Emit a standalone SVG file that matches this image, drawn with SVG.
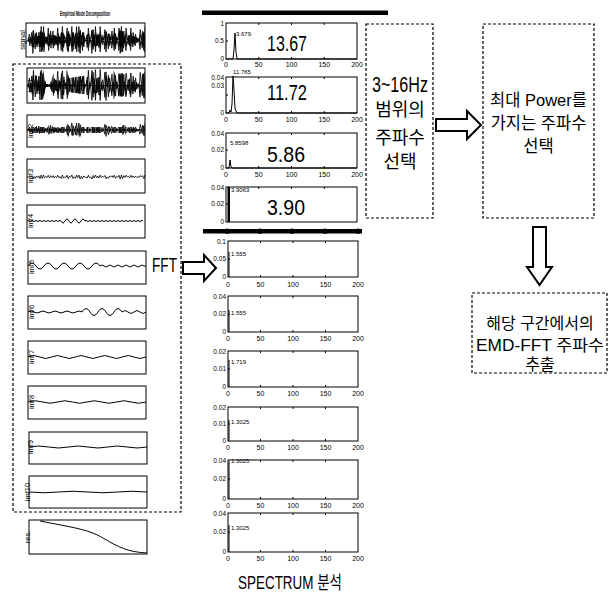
<svg xmlns="http://www.w3.org/2000/svg" width="612" height="593" viewBox="0 0 612 593">
<style>
.ax{fill:none;stroke:#000;stroke-width:1}
.w{fill:none;stroke:#000;stroke-width:1}
.n{fill:none;stroke:#000;stroke-width:0.8;vector-effect:non-scaling-stroke}
.dash{fill:none;stroke:#000;stroke-width:1.2;stroke-dasharray:3 2}
.arr{fill:#fff;stroke:#000;stroke-width:2;stroke-linejoin:miter}
text{font-family:"Liberation Sans","Noto Sans CJK KR",sans-serif;fill:#000}
.tk{font-size:7px;text-anchor:middle}
.yl{font-size:6.5px;text-anchor:end}
.ann{font-size:6px}
.lab{font-size:7.5px;text-anchor:middle}
.big{font-size:22px;text-anchor:middle}
.kr{font-size:18px;text-anchor:middle}
.kr2{font-size:16.5px;text-anchor:middle}
.kr3{font-size:16px;text-anchor:middle}
.bar{fill:#000}
</style>
<defs>
<path id="n1" class="n" d="M0,0 L1,1 2,-4 3,1 4,-5 5,9 6,-2 7,6 8,-5 9,3 10,-5 11,8 12,-9 13,7 14,-9 15,3 16,-2 17,3 18,-8 19,4 20,-6 21,2 22,-6 23,4 24,-3 25,3 26,-8 27,3 28,-2 29,7 30,-9 31,5 32,0 33,2 34,-8 35,8 36,-4 37,1 38,-9 39,7 40,-1 41,6 42,-9 43,3 44,-9 45,9 46,-3 47,7 48,-5 49,1 50,0 51,5 52,-8 53,2 54,0 55,9 56,-7 57,4 58,-9 59,4 60,-4 61,5 62,-9 63,2 64,-3 65,0 66,-7 67,8 68,-1 69,6 70,-4 71,0 72,-6 73,2 74,-8 75,6 76,-2 77,0 78,-8 79,9 80,-9 81,8 82,-6 83,2 84,-8 85,0 86,-3 87,4 88,-8 89,2 90,-5 91,3 92,-4 93,2 94,-1 95,1 96,-7 97,0 98,-6 99,7 100,-9"/>
<clipPath id="cSig"><rect x="26" y="24" width="119" height="32"/></clipPath>
<clipPath id="cI1"><polygon points="27,85 30,70 43,70 46,84 50,84 54,72 67,70 69,78 83,76 86,70 113,69 115,74 145,72 145,98 115,96 113,101 86,100 83,94 69,92 67,100 54,98 50,87 46,87 43,100 30,100 27,86"/></clipPath>
<clipPath id="cI2"><polygon points="27,127 36,127 38,124 40,127 48,127 50,122 53,127 66,127 68,123 80,123 82,127 102,127 104,123 110,123 112,127 122,127 124,122 126,127 136,127 138,122 145,122 145,138 138,138 136,133 126,133 124,138 122,133 112,133 110,137 104,137 102,133 82,133 80,137 68,137 66,133 53,133 50,138 48,133 40,133 38,136 36,133 27,133"/></clipPath>
</defs>
<rect x="0" y="0" width="612" height="593" fill="#fff"/>

<!-- EMD column -->
<g id="emd-title"><text x="85" y="16" font-size="7" font-weight="bold" text-anchor="middle" textLength="50" lengthAdjust="spacingAndGlyphs">Empirical Mode Decomposition</text></g>
<g id="signal">
<text class="lab" transform="translate(25,40) rotate(-90)">signal</text>
<rect class="ax" x="26" y="23" width="119" height="34"/>
<g clip-path="url(#cSig)">
<use href="#n1" transform="translate(27,40) scale(1.18,1.5)"/>
<use href="#n1" transform="translate(27.6,41) scale(1.17,-1.2)"/>
<use href="#n1" transform="translate(27.3,39) scale(1.175,-0.9)"/>
<use href="#n1" transform="translate(27.9,40) scale(1.17,0.8)"/>
</g>
</g>
<g id="imf-box"><rect class="dash" x="13" y="64" width="168" height="448"/></g>
<g id="imf1">
<rect class="ax" x="27" y="68" width="118" height="35"/>
<path class="w" d="M27,85.5H145"/>
<g clip-path="url(#cI1)">
<use href="#n1" transform="translate(27,85.5) scale(1.18,1.9)"/>
<use href="#n1" transform="translate(27.6,85.5) scale(1.17,-1.7)"/>
<use href="#n1" transform="translate(27.3,85.5) scale(1.175,-1.1)"/>
</g>
<text class="lab" transform="translate(33,85.5) rotate(-90)">imf1</text>
</g>
<g id="imf2">
<rect class="ax" x="27" y="115" width="118" height="32"/>
<path class="w" d="M27,130H145"/>
<g clip-path="url(#cI2)">
<use href="#n1" transform="translate(27,130) scale(1.18,0.8)"/>
<use href="#n1" transform="translate(27.6,130) scale(1.17,-0.6)"/>
</g>
<text class="lab" transform="translate(33,131) rotate(-90)">imf2</text>
</g>
<g id="imf3">
<rect class="ax" x="27" y="159" width="118" height="34"/>
<use href="#n1" transform="translate(27,177) scale(1.18,0.22)"/>
<text class="lab" transform="translate(33,176) rotate(-90)">imf3</text>
</g>
<g id="imf4">
<rect class="ax" x="27" y="205" width="118" height="33"/>
<path class="w" d="M27,221q1,-1.2 2,0t2,0t2,0t2,0t2,0t2,0t2,0t2,0t2,0t2,0t2,0t2,0t2,0t2,0t2,0t2,0t2,0q2,4 4,0t4,0t4,0t4,0t4,0t4,0q1,-1.2 2,0t2,0t2,0t2,0t2,0t2,0t2,0t2,0t2,0t2,0t2,0t2,0t2,0t2,0t2,0t2,0t2,0t2,0t2,0t2,0t2,0t2,0t2,0t2,0t2,0t2,0t2,0t2,0t2,0"/>
<text class="lab" transform="translate(33,221) rotate(-90)">imf4</text>
</g>
<g id="imf5">
<rect class="ax" x="28" y="251" width="118" height="33"/>
<path class="w" d="M28,266q4,-6 8,0t8,0t8,0t8,0t8,0t8,0t8,0t8,0t8,0q2,-2 4,0t4,0t4,0t4,0t4,0t4,0t4,0t4,0t4,0t4,0t4,0L146,266"/>
<text class="lab" transform="translate(34,267) rotate(-90)">imf5</text>
</g>
<g id="imf6">
<rect class="ax" x="28" y="296" width="118" height="33"/>
<path class="w" d="M28,312q3,-2 6,0t6,0t6,0t6,0t6,0t6,0t6,0t6,0t6,0q4,-7 8,0t8,0t8,0t8,0t8,0q3,-3 6,0t6,0t6,0t6,0"/>
<text class="lab" transform="translate(34,312) rotate(-90)">imf6</text>
</g>
<g id="imf7">
<rect class="ax" x="28" y="341" width="118" height="33"/>
<path class="w" d="M28,357q5.9,-3 11.8,0t11.8,0t11.8,0t11.8,0t11.8,0t11.8,0t11.8,0t11.8,0t11.8,0t11.8,0"/>
<text class="lab" transform="translate(34,357) rotate(-90)">imf7</text>
</g>
<g id="imf8">
<rect class="ax" x="28" y="386" width="118" height="33"/>
<path class="w" d="M28,402q7.4,-2.5 14.75,0t14.75,0t14.75,0t14.75,0t14.75,0t14.75,0t14.75,0t14.75,0"/>
<text class="lab" transform="translate(34,402) rotate(-90)">imf8</text>
</g>
<g id="imf9">
<rect class="ax" x="29" y="432" width="118" height="32"/>
<path class="w" d="M29,447q9.8,-2 19.67,0t19.67,0t19.67,0t19.67,0t19.67,0t19.67,0"/>
<text class="lab" transform="translate(33,447) rotate(-90)">imf9</text>
</g>
<g id="imf10">
<rect class="ax" x="29" y="476" width="118" height="32"/>
<path class="w" d="M29,492q14.75,1.5 29.5,0t29.5,0t29.5,0t29.5,0"/>
<text class="lab" transform="translate(30,492) rotate(-90)">imf10</text>
</g>
<g id="res">
<rect class="ax" x="29" y="520" width="118" height="34"/>
<path class="w" d="M40,521C70,527 88,529 103,538S128,552 147,553"/>
<text class="lab" transform="translate(30,537) rotate(-90)">res.</text>
</g>

<!-- FFT label -->
<g id="fft-label"><text x="164.5" y="272" font-size="21" text-anchor="middle" textLength="25" lengthAdjust="spacingAndGlyphs">FFT</text></g>

<!-- Spectrum column -->
<g id="spec-top-bar"><rect class="bar" x="202" y="10.5" width="186" height="4.5"/></g>
<g id="spec1">
<rect class="ax" x="226" y="23" width="131" height="36"/>
<path class="ax" d="M258.75,59v-2M291.5,59v-2M324.25,59v-2M258.75,23v2M291.5,23v2M324.25,23v2M226,41h2"/>
<path class="w" d="M226,59H233L234,50 235,33 236,52 237,59H357"/>
<text class="yl" x="224" y="26">1</text><text class="yl" x="224" y="43">0.5</text><text class="yl" x="224" y="61">0</text>
<text class="tk" x="226" y="67">0</text><text class="tk" x="258.75" y="67">50</text><text class="tk" x="291.5" y="67">100</text><text class="tk" x="324.25" y="67">150</text><text class="tk" x="357" y="67">200</text>
<text class="ann" x="236" y="36">3.679</text>
<text class="big" x="287" y="51" textLength="40" lengthAdjust="spacingAndGlyphs">13.67</text>
</g>
<g id="spec2">
<rect class="ax" x="226" y="77" width="131" height="36"/>
<path class="ax" d="M258.75,113v-2M291.5,113v-2M324.25,113v-2M258.75,77v2M291.5,77v2M324.25,77v2M226,95h2"/>
<path class="w" d="M226,113H229L230,110 231,112 232,104 233,76 234,90 235,108 236,111 237,113H357"/>
<text class="yl" x="224" y="80">0.04</text><text class="yl" x="224" y="88">0.03</text><text class="yl" x="224" y="115">0</text>
<text class="tk" x="226" y="122">0</text><text class="tk" x="258.75" y="122">50</text><text class="tk" x="291.5" y="122">100</text><text class="tk" x="324.25" y="122">150</text><text class="tk" x="357" y="122">200</text>
<text class="ann" x="233" y="74">11.765</text>
<text class="big" x="287" y="100" textLength="40" lengthAdjust="spacingAndGlyphs">11.72</text>
</g>
<g id="spec3">
<rect class="ax" x="226" y="133" width="131" height="35"/>
<path class="ax" d="M258.75,168v-2M291.5,168v-2M324.25,168v-2M258.75,133v2M291.5,133v2M324.25,133v2M226,150h2"/>
<path class="w" d="M226,168H229L230,160 231,167 232,168H357"/>
<text class="yl" x="224" y="136">0.04</text><text class="yl" x="224" y="152">0.02</text><text class="yl" x="224" y="170">0</text>
<text class="tk" x="226" y="177">0</text><text class="tk" x="258.75" y="177">50</text><text class="tk" x="291.5" y="177">100</text><text class="tk" x="324.25" y="177">150</text><text class="tk" x="357" y="177">200</text>
<text class="ann" x="230" y="145">5.8598</text>
<text class="big" x="286" y="162" textLength="38" lengthAdjust="spacingAndGlyphs">5.86</text>
</g>
<g id="spec4">
<rect class="ax" x="226" y="187" width="131" height="35"/>
<path class="ax" d="M258.75,187v2M291.5,187v2M324.25,187v2M226,204h2"/>
<rect class="bar" x="227.5" y="187" width="2.5" height="35"/>
<text class="yl" x="224" y="190">0.04</text><text class="yl" x="224" y="206">0.02</text><text class="yl" x="224" y="224">0</text>
<text class="ann" x="231" y="192">3.9063</text>
<text class="big" x="286" y="215" textLength="38" lengthAdjust="spacingAndGlyphs">3.90</text>
</g>
<g id="spec-mid-bar">
<rect class="bar" x="203" y="229" width="159" height="4.5"/>
<circle class="bar" cx="227" cy="231.2" r="2.6"/><circle class="bar" cx="260" cy="231.2" r="2.6"/><circle class="bar" cx="292" cy="231.2" r="2.6"/><circle class="bar" cx="325" cy="231.2" r="2.6"/><circle class="bar" cx="358" cy="231.2" r="2.6"/>
</g>
<g id="spec5">
<rect class="ax" x="228" y="241" width="130" height="36"/>
<path class="ax" d="M260.5,277v-2M293,277v-2M325.5,277v-2M260.5,241v2M293,241v2M325.5,241v2M228,259h2"/>
<path class="w" d="M229,277V252" stroke-width="1.5"/>
<text class="yl" x="226" y="244">0.1</text><text class="yl" x="226" y="261">0.05</text><text class="yl" x="226" y="279">0</text>
<text class="tk" x="228" y="287">0</text><text class="tk" x="260.5" y="287">50</text><text class="tk" x="293" y="287">100</text><text class="tk" x="325.5" y="287">150</text><text class="tk" x="358" y="287">200</text>
<text class="ann" x="231" y="256">1.555</text>
</g>
<g id="spec6">
<rect class="ax" x="228" y="296" width="130" height="36"/>
<path class="ax" d="M260.5,332v-2M293,332v-2M325.5,332v-2M260.5,296v2M293,296v2M325.5,296v2M228,314h2"/>
<path class="w" d="M229,332V310" stroke-width="1.5"/>
<text class="yl" x="226" y="299">0.04</text><text class="yl" x="226" y="316">0.02</text><text class="yl" x="226" y="334">0</text>
<text class="tk" x="228" y="341">0</text><text class="tk" x="260.5" y="341">50</text><text class="tk" x="293" y="341">100</text><text class="tk" x="325.5" y="341">150</text><text class="tk" x="358" y="341">200</text>
<text class="ann" x="231" y="315">1.555</text>
</g>
<g id="spec7">
<rect class="ax" x="228" y="351" width="130" height="36"/>
<path class="ax" d="M260.5,387v-2M293,387v-2M325.5,387v-2M260.5,351v2M293,351v2M325.5,351v2M228,369h2"/>
<path class="w" d="M229,387V360" stroke-width="1.5"/>
<text class="yl" x="226" y="354">0.02</text><text class="yl" x="226" y="371">0.01</text><text class="yl" x="226" y="389">0</text>
<text class="tk" x="228" y="396">0</text><text class="tk" x="260.5" y="396">50</text><text class="tk" x="293" y="396">100</text><text class="tk" x="325.5" y="396">150</text><text class="tk" x="358" y="396">200</text>
<text class="ann" x="231" y="364">1.719</text>
</g>
<g id="spec8">
<rect class="ax" x="228" y="407" width="130" height="34"/>
<path class="ax" d="M260.5,441v-2M293,441v-2M325.5,441v-2M260.5,407v2M293,407v2M325.5,407v2M228,424h2"/>
<path class="w" d="M229,441V420" stroke-width="1.5"/>
<text class="yl" x="226" y="410">0.02</text><text class="yl" x="226" y="426">0.01</text><text class="yl" x="226" y="443">0</text>
<text class="tk" x="228" y="450">0</text><text class="tk" x="260.5" y="450">50</text><text class="tk" x="293" y="450">100</text><text class="tk" x="325.5" y="450">150</text><text class="tk" x="358" y="450">200</text>
<text class="ann" x="231" y="424">1.3025</text>
</g>
<g id="spec9">
<rect class="ax" x="228" y="460" width="130" height="39"/>
<path class="ax" d="M260.5,499v-2M293,499v-2M325.5,499v-2M260.5,460v2M293,460v2M325.5,460v2M228,479h2"/>
<path class="w" d="M229,499V461" stroke-width="1.5"/>
<text class="yl" x="226" y="463">0.04</text><text class="yl" x="226" y="481">0.02</text><text class="yl" x="226" y="501">0</text>
<text class="tk" x="228" y="508">0</text><text class="tk" x="260.5" y="508">50</text><text class="tk" x="293" y="508">100</text><text class="tk" x="325.5" y="508">150</text><text class="tk" x="358" y="508">200</text>
<text class="ann" x="231" y="463">1.3025</text>
</g>
<g id="spec10">
<rect class="ax" x="228" y="513" width="130" height="39"/>
<path class="ax" d="M260.5,552v-2M293,552v-2M325.5,552v-2M260.5,513v2M293,513v2M325.5,513v2M228,532h2"/>
<path class="w" d="M229,552V525" stroke-width="1.5"/>
<text class="yl" x="226" y="516">0.04</text><text class="yl" x="226" y="534">0.02</text><text class="yl" x="226" y="554">0</text>
<text class="tk" x="228" y="561">0</text><text class="tk" x="260.5" y="561">50</text><text class="tk" x="293" y="561">100</text><text class="tk" x="325.5" y="561">150</text><text class="tk" x="358" y="561">200</text>
<text class="ann" x="231" y="530">1.3025</text>
</g>
<g id="spectrum-label"><text x="290" y="589" font-size="18" text-anchor="middle" textLength="104" lengthAdjust="spacingAndGlyphs">SPECTRUM 분석</text></g>

<!-- Process boxes -->
<g id="range-box">
<rect class="dash" x="366" y="24" width="67" height="194"/>
<text x="400" y="92" font-size="22" text-anchor="middle" textLength="56" lengthAdjust="spacingAndGlyphs">3~16Hz</text>
<text class="kr" x="400" y="116">범위의</text>
<text class="kr" x="400" y="144">주파수</text>
<text class="kr" x="400" y="168">선택</text>
</g>
<g id="power-box">
<rect class="dash" x="483" y="24" width="111" height="194"/>
<text class="kr2" x="538.5" y="106">최대 Power를</text>
<text class="kr2" x="538.5" y="129">가지는 주파수</text>
<text class="kr2" x="538.5" y="152">선택</text>
</g>
<g id="extract-box">
<rect class="dash" x="472" y="293" width="135" height="80"/>
<text class="kr3" x="540" y="329">해당 구간에서의</text>
<text class="kr3" x="540" y="351" textLength="128" lengthAdjust="spacingAndGlyphs">EMD-FFT 주파수</text>
<text class="kr3" x="540" y="370">추출</text>
</g>

<!-- Connectors -->
<g id="connectors">
<polygon class="arr" points="183,262 204,262 204,255 216,268 204,281 204,274 183,274"/>
<polygon class="arr" points="436,119 467,119 467,111 481,125 467,139 467,131 436,131"/>
<polygon class="arr" points="533,227 546,227 546,267 552,267 539.5,285 527,267 533,267"/>
</g>
</svg>
